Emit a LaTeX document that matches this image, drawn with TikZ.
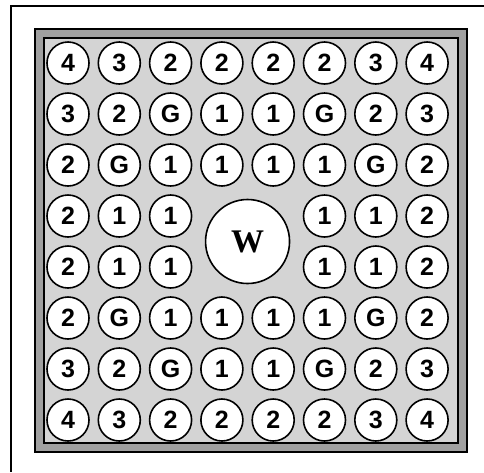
\documentclass[tikz,border=0pt]{standalone}
\usepackage{fontspec}
\setmainfont{Liberation Serif}
\newfontfamily\cellfont{Liberation Sans}
\usepackage{tikz}
\usetikzlibrary{positioning}
\definecolor{BandGray}{RGB}{160,160,160}
\definecolor{FieldGray}{RGB}{212,212,212}

\tikzset{
  cell/.style={circle, draw, line width=1.6pt, fill=white, minimum size=42pt, inner sep=0pt,
    font=\cellfont\bfseries\fontsize{25}{25}\selectfont},
  well/.style={circle, draw, line width=1.6pt, fill=white, minimum size=84pt, inner sep=0pt,
    font=\bfseries\fontsize{33}{33}\selectfont}
}

\begin{document}
\begin{tikzpicture}[x=1pt, y=-1pt]
  \useasboundingbox (0,0) rectangle (484,472);
  % page corner lines
  \draw[line width=1.8pt] (484,6) -- (11,6) -- (11,472);
  % frame band and field
  \draw[line width=2.5pt, fill=BandGray] (35,29) rectangle (467,452);
  \draw[line width=1.8pt, fill=FieldGray] (44,38) rectangle (458,443);
  % cells, x marks the centre
  \foreach \row [count=\i] in {{4,3,2,2,2,2,3,4},{3,2,G,1,1,G,2,3},{2,G,1,1,1,1,G,2},{2,1,1,x,x,1,1,2},
      {2,1,1,x,x,1,1,2},{2,G,1,1,1,1,G,2},{3,2,G,1,1,G,2,3},{4,3,2,2,2,2,3,4}}
    \foreach \v [count=\j] in \row {
      \if x\v\else
        \node[cell] (c-\i-\j) at ({68+51.3*(\j-1)},{63+51*(\i-1)}) {\v};
      \fi
    };
  \node[well] (w) at ({68+51.3*3.5},{63+51*3.5}) {W};
\end{tikzpicture}
\end{document}
